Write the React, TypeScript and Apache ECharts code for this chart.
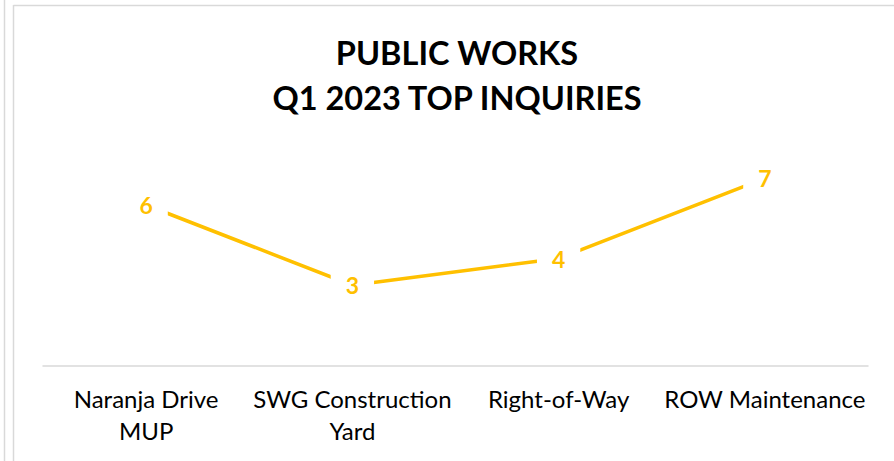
import React, { useEffect, useRef } from "react";
import * as echarts from "echarts";

const titleLines = ["PUBLIC WORKS", "Q1 2023 TOP INQUIRIES"];
const categories = ["Naranja Drive\nMUP", "SWG Construction\nYard", "Right-of-Way", "ROW Maintenance"];
const inquiries = [6, 3, 4, 7];

const FONT = "Lato, 'Open Sans', sans-serif";
const GOLD = "#FFC000";

export default function App() {
  const ref = useRef<HTMLDivElement>(null);
  useEffect(() => {
    if (!ref.current) return;
    const chart = echarts.init(ref.current, null, { renderer: "svg" });
    chart.setOption({
      animation: false,
      backgroundColor: "#ffffff",
      title: {
        text: titleLines.join("\n"),
        left: 457,
        textAlign: "center",
        top: 30,
        padding: 0,
        textStyle: {
          fontFamily: FONT,
          fontWeight: "bold",
          fontSize: 32.5,
          lineHeight: 45,
          color: "#000000",
        },
      },
      graphic: [
        { type: "line", shape: { x1: 4.5, y1: 0, x2: 4.5, y2: 461 }, style: { stroke: "#d9d9d9", lineWidth: 1.5 } },
        { type: "line", shape: { x1: 13.5, y1: 5, x2: 13.5, y2: 461 }, style: { stroke: "#d9d9d9", lineWidth: 1.5 } },
        { type: "line", shape: { x1: 13.5, y1: 5.5, x2: 894, y2: 5.5 }, style: { stroke: "#d9d9d9", lineWidth: 1.5 } },
      ],
      grid: { left: 43, right: 26, top: 151.5, bottom: 95.5, containLabel: false },
      xAxis: {
        type: "category",
        data: categories,
        boundaryGap: true,
        axisLine: { show: true, lineStyle: { color: "#d9d9d9", width: 1.5 } },
        axisTick: { show: false },
        axisLabel: {
          interval: 0,
          margin: 17,
          fontFamily: FONT,
          fontSize: 24,
          lineHeight: 32,
          color: "#000000",
        },
        splitLine: { show: false },
      },
      yAxis: {
        type: "value",
        min: 0,
        max: 8,
        interval: 1,
        show: false,
        splitLine: { show: false },
      },
      series: [
        {
          type: "line",
          data: inquiries,
          symbol: "circle",
          symbolSize: 1,
          lineStyle: { color: GOLD, width: 3.5 },
          itemStyle: { color: GOLD },
          label: {
            show: true,
            position: "inside",
            fontFamily: FONT,
            fontWeight: "bold",
            fontSize: 23,
            color: GOLD,
            backgroundColor: "#ffffff",
            padding: [4, 15, 4, 15],
          },
        },
      ],
    });
    return () => chart.dispose();
  }, []);
  return (
    <div
      ref={ref}
      style={{ position: "fixed", left: 0, top: 0, width: 894, height: 461 }}
    />
  );
}
